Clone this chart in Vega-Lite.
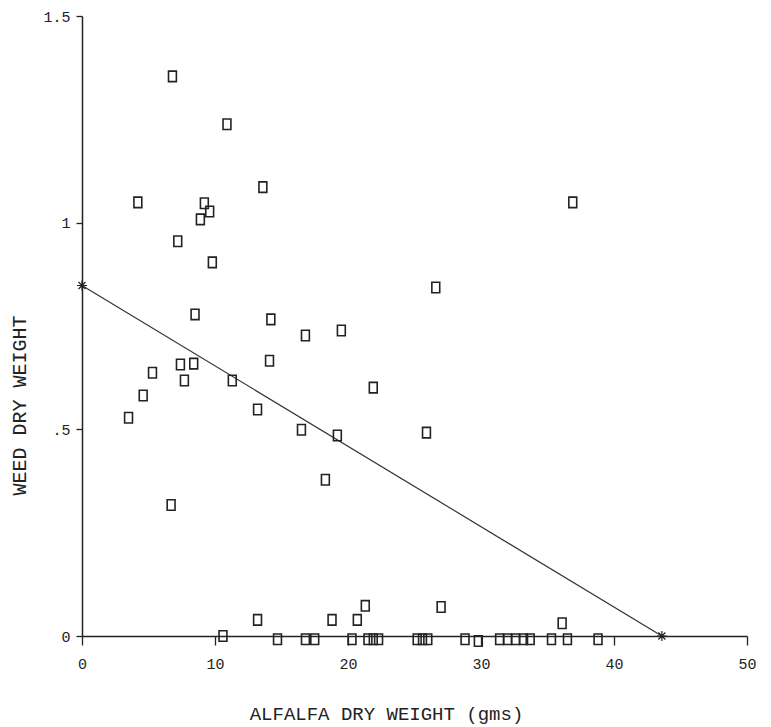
{
  "$schema": "https://vega.github.io/schema/vega-lite/v6.json",
  "width": 665,
  "height": 620,
  "autosize": {"type": "none"},
  "padding": {"left": 82, "top": 16, "right": 24, "bottom": 91},
  "background": "white",
  "config": {
    "view": {"stroke": null},
    "font": "Liberation Mono",
    "axis": {
      "grid": false,
      "domainColor": "#222",
      "domainWidth": 1.5,
      "tickColor": "#222",
      "tickWidth": 1.3,
      "labelColor": "#222",
      "titleColor": "#222",
      "labelFont": "Liberation Mono",
      "titleFont": "Liberation Mono",
      "labelFontSize": 15,
      "titleFontSize": 19,
      "titleFontWeight": "normal",
      "labelFlush": false
    }
  },
  "datasets": {
    "pts": [
      {"alfalfa": 6.8, "weed": 1.354},
      {"alfalfa": 10.9, "weed": 1.238},
      {"alfalfa": 13.6, "weed": 1.086},
      {"alfalfa": 4.2, "weed": 1.049},
      {"alfalfa": 9.2, "weed": 1.047},
      {"alfalfa": 9.6, "weed": 1.027},
      {"alfalfa": 8.9, "weed": 1.008},
      {"alfalfa": 7.2, "weed": 0.955},
      {"alfalfa": 9.8, "weed": 0.904},
      {"alfalfa": 8.5, "weed": 0.778},
      {"alfalfa": 14.2, "weed": 0.766},
      {"alfalfa": 16.8, "weed": 0.727},
      {"alfalfa": 19.5, "weed": 0.739},
      {"alfalfa": 14.1, "weed": 0.666},
      {"alfalfa": 7.4, "weed": 0.657},
      {"alfalfa": 8.4, "weed": 0.659},
      {"alfalfa": 5.3, "weed": 0.637},
      {"alfalfa": 7.7, "weed": 0.618},
      {"alfalfa": 11.3, "weed": 0.618},
      {"alfalfa": 21.9, "weed": 0.601},
      {"alfalfa": 4.6, "weed": 0.582},
      {"alfalfa": 13.2, "weed": 0.548},
      {"alfalfa": 3.5, "weed": 0.528},
      {"alfalfa": 16.5, "weed": 0.499},
      {"alfalfa": 19.2, "weed": 0.485},
      {"alfalfa": 25.9, "weed": 0.492},
      {"alfalfa": 26.6, "weed": 0.843},
      {"alfalfa": 36.9, "weed": 1.049},
      {"alfalfa": 18.3, "weed": 0.378},
      {"alfalfa": 6.7, "weed": 0.317},
      {"alfalfa": 13.2, "weed": 0.039},
      {"alfalfa": 18.8, "weed": 0.039},
      {"alfalfa": 20.7, "weed": 0.039},
      {"alfalfa": 21.3, "weed": 0.073},
      {"alfalfa": 27.0, "weed": 0.070},
      {"alfalfa": 36.1, "weed": 0.031},
      {"alfalfa": 10.6, "weed": 0.0},
      {"alfalfa": 14.7, "weed": -0.008},
      {"alfalfa": 16.8, "weed": -0.008},
      {"alfalfa": 17.5, "weed": -0.008},
      {"alfalfa": 20.3, "weed": -0.008},
      {"alfalfa": 21.5, "weed": -0.008},
      {"alfalfa": 21.9, "weed": -0.008},
      {"alfalfa": 22.3, "weed": -0.008},
      {"alfalfa": 25.2, "weed": -0.008},
      {"alfalfa": 25.6, "weed": -0.008},
      {"alfalfa": 26.0, "weed": -0.008},
      {"alfalfa": 28.8, "weed": -0.008},
      {"alfalfa": 29.8, "weed": -0.012},
      {"alfalfa": 31.4, "weed": -0.008},
      {"alfalfa": 32.0, "weed": -0.008},
      {"alfalfa": 32.6, "weed": -0.008},
      {"alfalfa": 33.2, "weed": -0.008},
      {"alfalfa": 33.7, "weed": -0.008},
      {"alfalfa": 35.3, "weed": -0.008},
      {"alfalfa": 36.5, "weed": -0.008},
      {"alfalfa": 38.8, "weed": -0.008}
    ],
    "fit": [
      {"alfalfa": 0, "weed": 0.848},
      {"alfalfa": 43.6, "weed": 0.0}
    ]
  },
  "encoding": {
    "x": {
      "field": "alfalfa",
      "type": "quantitative",
      "scale": {"domain": [0, 50], "nice": false, "zero": false},
      "axis": {
        "values": [0, 10, 20, 30, 40, 50],
        "title": "ALFALFA DRY WEIGHT (gms)",
        "titleX": 304,
        "titleY": 83,
        "titleAlign": "center",
        "titleBaseline": "alphabetic",
        "tickSize": 9,
        "labelPadding": 11
      }
    },
    "y": {
      "field": "weed",
      "type": "quantitative",
      "scale": {"domain": [0, 1.5], "nice": false, "zero": false},
      "axis": {
        "values": [0, 0.5, 1, 1.5],
        "labelExpr": "datum.value == 0.5 ? '.5' : datum.value == 1.5 ? '1.5' : datum.value == 1 ? '1' : '0'",
        "title": "WEED DRY WEIGHT",
        "titleX": -63,
        "titleY": 389,
        "titleAngle": -90,
        "titleAlign": "center",
        "titleBaseline": "middle",
        "titleFontSize": 20,
        "tickSize": 6,
        "labelPadding": 6
      }
    }
  },
  "layer": [
    {
      "data": {"name": "fit"},
      "mark": {"type": "line", "color": "#333", "strokeWidth": 1.2}
    },
    {
      "data": {"name": "fit"},
      "mark": {
        "type": "point",
        "shape": "M-1,0H1M0,-1V1M-0.7,-0.7L0.7,0.7M-0.7,0.7L0.7,-0.7",
        "size": 100,
        "filled": false,
        "color": "#222",
        "strokeWidth": 1.2,
        "opacity": 1
      }
    },
    {
      "data": {"name": "pts"},
      "mark": {
        "type": "point",
        "shape": "M-0.75,-1H0.75V1H-0.75Z",
        "size": 110,
        "filled": false,
        "color": "#222",
        "strokeWidth": 1.6,
        "opacity": 1
      }
    }
  ]
}
